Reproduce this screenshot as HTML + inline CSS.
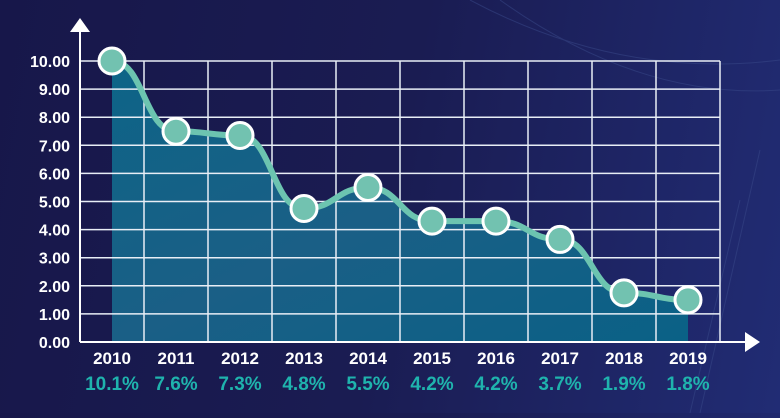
<!DOCTYPE html>
<html><head><meta charset="utf-8"><style>
html,body{margin:0;padding:0;}
body{width:780px;height:413px;overflow:hidden;background:linear-gradient(100deg,#17174a 0%,#1a1c52 50%,#212c74 100%);font-family:"Liberation Sans",sans-serif;}
svg text{font-family:"Liberation Sans",sans-serif;font-weight:bold;}
</style></head><body>
<svg id="chart" width="780" height="413" viewBox="0 0 780 413">
<defs>
<linearGradient id="fillg" x1="0" y1="0" x2="1" y2="1">
<stop offset="0" stop-color="#0d6487"/><stop offset="0.5" stop-color="#1a5f86"/><stop offset="1" stop-color="#0a6186"/>
</linearGradient>
</defs>
<g id="deco" stroke="#3a4a8a" stroke-width="1" fill="none" opacity="0.5">
<path d="M470 0 Q620 80 780 60"/><path d="M500 0 Q640 100 780 90"/><path d="M760 150 L700 413"/><path d="M740 200 L690 413"/>
</g>
<g id="grid"></g>
<path id="area" fill="url(#fillg)"></path>
<g id="gridv"></g>
<path id="line" fill="none" stroke="#6cc4b0" stroke-width="6"></path>
<g id="axes" stroke="#fff" stroke-width="2" fill="#fff">
<line x1="80" y1="30" x2="80" y2="342"/>
<polygon points="70,32 90,32 80,18" stroke="none"/>
<line x1="80" y1="342" x2="748" y2="342"/>
<polygon points="745,332 745,352 760,342" stroke="none"/>
</g>
<g id="marks"></g>
<g id="labels"></g>
</svg>
<script>
const years=["2010","2011","2012","2013","2014","2015","2016","2017","2018","2019"];
const values=[10.0,7.5,7.35,4.75,5.5,4.3,4.3,3.65,1.75,1.5];
const pctLabels=["10.1%","7.6%","7.3%","4.8%","5.5%","4.2%","4.2%","3.7%","1.9%","1.8%"];
const yTicks=[0,1,2,3,4,5,6,7,8,9,10];
const NS="http://www.w3.org/2000/svg";
const x0=80,x1=720,yTop=61,yBot=342,yMax=10;
const step=(x1-x0)/years.length;
const xs=i=>x0+step*(i+0.5);
const ys=v=>yBot-(v/yMax)*(yBot-yTop);
function mk(tag,attrs,parent){const e=document.createElementNS(NS,tag);for(const k in attrs)e.setAttribute(k,attrs[k]);parent.appendChild(e);return e;}
const grid=document.getElementById('gridv');
const labels=document.getElementById('labels');
yTicks.forEach(t=>{
 const l=mk('line',{x1:x0,x2:x1,y1:ys(t),y2:ys(t),stroke:'#e8eef6','stroke-width':1.5},grid);
 
 
 const tx=mk('text',{x:70,y:ys(t)+6,'text-anchor':'end',fill:'#fff','font-size':16},labels);
 tx.textContent=t.toFixed(2);
 
 
});
for(let i=1;i<=years.length;i++){
 const l=mk('line',{x1:x0+step*i,x2:x0+step*i,y1:yTop,y2:yBot,stroke:'#e8eef6','stroke-width':1.5},grid);
 
 
}
// smooth path (monotone-ish cubic)
const pts=values.map((v,i)=>[xs(i),ys(v)]);
let d='M'+pts[0][0]+' '+pts[0][1];
for(let i=1;i<pts.length;i++){
 const [ax,ay]=pts[i-1],[bx,by]=pts[i];const cx=(bx-ax)*0.5;
 d+=` C${ax+cx} ${ay} ${bx-cx} ${by} ${bx} ${by}`;
}
document.getElementById('line').setAttribute('d',d);
document.getElementById('area').setAttribute('d',d+` L${pts[pts.length-1][0]} ${yBot} L${pts[0][0]} ${yBot} Z`);
const marks=document.getElementById('marks');
pts.forEach((p,i)=>{
 const c=mk('circle',{cx:p[0],cy:p[1],r:13,fill:'#72c2b0',stroke:'#fff','stroke-width':3},marks);
 
 
 const t=mk('text',{x:p[0],y:364,'text-anchor':'middle',fill:'#fff','font-size':17},labels);
 t.textContent=years[i];
 
 
 const q=mk('text',{x:p[0],y:390,'text-anchor':'middle',fill:'#1fb3ad','font-size':19},labels);
 q.textContent=pctLabels[i];
 
 
});
</script>
</body></html>
